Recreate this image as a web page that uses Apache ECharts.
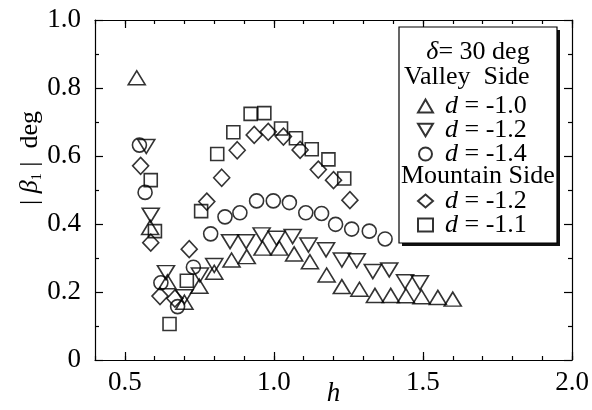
<!DOCTYPE html>
<html>
<head>
<meta charset="utf-8">
<script src="https://cdn.jsdelivr.net/npm/echarts@6/dist/echarts.min.js"></script>
<style>
  html, body { margin: 0; padding: 0; background: #fff; }
  #chart { width: 592px; height: 410px; }
</style>
</head>
<body>
<div id="chart"></div>
<script>
// Flow-angle amplitude |beta_1| against non-dimensional height h, delta = 30 deg.
const SERIF = '"Liberation Serif", "DejaVu Serif", serif';

const xMajorTicks = [0.5, 1.0, 1.5, 2.0];

// Valley side, d = -1.0  [h, |beta1|]
const valleyD10 = [
  [0.54, 0.83], [0.585, 0.39], [0.643, 0.23], [0.70, 0.17], [0.75, 0.217],
  [0.80, 0.258], [0.858, 0.294], [0.909, 0.304], [0.962, 0.329], [1.018, 0.329],
  [1.068, 0.312], [1.121, 0.289], [1.177, 0.25], [1.228, 0.216], [1.287, 0.208],
  [1.339, 0.19], [1.392, 0.19], [1.443, 0.189], [1.495, 0.186], [1.55, 0.184],
  [1.60, 0.179]
];
// Valley side, d = -1.2
const valleyD12 = [
  [0.572, 0.628], [0.587, 0.426], [0.638, 0.257], [0.70, 0.186], [0.752, 0.25],
  [0.80, 0.278], [0.853, 0.348], [0.907, 0.348], [0.959, 0.368], [1.009, 0.358],
  [1.063, 0.363], [1.116, 0.338], [1.175, 0.324], [1.228, 0.294], [1.278, 0.292],
  [1.332, 0.26], [1.387, 0.265], [1.44, 0.23], [1.49, 0.227]
];
// Valley side, d = -1.4
const valleyD14 = [
  [0.549, 0.632], [0.568, 0.493], [0.621, 0.227], [0.677, 0.157], [0.73, 0.273],
  [0.788, 0.371], [0.836, 0.421], [0.886, 0.433], [0.942, 0.468], [0.998, 0.468],
  [1.052, 0.463], [1.107, 0.433], [1.16, 0.431], [1.207, 0.399], [1.261, 0.385],
  [1.32, 0.379], [1.373, 0.356]
];
// Mountain side, d = -1.2
const mountainD12 = [
  [0.553, 0.571], [0.587, 0.345], [0.618, 0.188], [0.668, 0.181], [0.716, 0.326],
  [0.775, 0.466], [0.825, 0.536], [0.877, 0.617], [0.934, 0.662], [0.981, 0.671],
  [1.032, 0.657], [1.088, 0.618], [1.149, 0.56], [1.2, 0.529], [1.255, 0.47]
];
// Mountain side, d = -1.1
const mountainD11 = [
  [0.587, 0.529], [0.601, 0.379], [0.65, 0.106], [0.708, 0.233], [0.756, 0.438],
  [0.81, 0.606], [0.864, 0.67], [0.922, 0.724], [0.968, 0.726], [1.024, 0.681],
  [1.074, 0.652], [1.127, 0.62], [1.183, 0.59], [1.236, 0.534]
];

const legendText = {
  v10: '-1.0', v12: '-1.2', v14: '-1.4', m12: '-1.2', m11: '-1.1'
};

const markStyle = { color: 'rgba(255,255,255,0)', borderColor: '#000', borderWidth: 1.6 };
const axisLineStyle = { color: '#000', width: 1.2 };

function scatter(name, data, symbol, size, rotate) {
  return {
    name, type: 'scatter', data, symbol, symbolSize: size, symbolRotate: rotate || 0,
    xAxisIndex: 0, yAxisIndex: 0, itemStyle: markStyle, emphasis: { disabled: true }
  };
}

const legendBase = {
  orient: 'vertical', itemWidth: 15, itemHeight: 13, itemGap: -2, padding: 0,
  selectedMode: false,
  itemStyle: { borderWidth: 2 },
  formatter: n => '{i|d} = ' + legendText[n],
  textStyle: {
    fontFamily: SERIF, fontSize: 26, color: '#000', padding: [0, 0, 0, 7],
    rich: { i: { fontFamily: SERIF, fontSize: 26, fontStyle: 'italic', color: '#000' } }
  }
};

const chart = echarts.init(document.getElementById('chart'), null, { renderer: 'canvas' });
chart.setOption({
  animation: false,
  backgroundColor: '#fff',
  grid: { left: 95, top: 20, right: 20, bottom: 50, outerBoundsMode: 'none', containLabel: false },
  xAxis: [
    {
      type: 'value', min: 0.4, max: 2.0, interval: 0.1, position: 'bottom',
      axisLine: { lineStyle: axisLineStyle },
      axisTick: { inside: true, length: 4, lineStyle: axisLineStyle },
      axisLabel: {
        color: '#000', fontFamily: SERIF, fontSize: 27, margin: 9,
        formatter: v => {
          const r = Math.round(v * 10);
          return r % 5 === 0 && r >= 5 ? (r / 10).toFixed(1) : '';
        }
      },
      splitLine: { show: false },
      name: 'h', nameLocation: 'middle', nameGap: 20, nameMoveOverlap: false,
      nameTextStyle: { fontFamily: SERIF, fontSize: 27, fontStyle: 'italic', color: '#000' }
    },
    {
      type: 'value', min: 0.4, max: 2.0, interval: 0.1, position: 'bottom',
      axisLine: { show: false },
      axisTick: { inside: true, length: 8, customValues: xMajorTicks, lineStyle: axisLineStyle },
      axisLabel: { show: false }, splitLine: { show: false }
    },
    {
      type: 'value', min: 0.4, max: 2.0, interval: 0.1, position: 'top',
      axisLine: { lineStyle: axisLineStyle },
      axisTick: { inside: true, length: 4, lineStyle: axisLineStyle },
      axisLabel: { show: false }, splitLine: { show: false }
    },
    {
      type: 'value', min: 0.4, max: 2.0, interval: 0.1, position: 'top',
      axisLine: { show: false },
      axisTick: { inside: true, length: 8, customValues: xMajorTicks, lineStyle: axisLineStyle },
      axisLabel: { show: false }, splitLine: { show: false }
    }
  ],
  yAxis: [
    {
      type: 'value', min: 0, max: 1.0, interval: 0.2, position: 'left',
      axisLine: { show: true, lineStyle: axisLineStyle },
      axisTick: { show: true, inside: true, length: 8, lineStyle: axisLineStyle },
      minorTick: { show: true, splitNumber: 2, length: 4, lineStyle: axisLineStyle },
      axisLabel: {
        color: '#000', fontFamily: SERIF, fontSize: 27, margin: 14,
        formatter: v => (v === 0 ? '0' : v.toFixed(1))
      },
      splitLine: { show: false }
    },
    {
      type: 'value', min: 0, max: 1.0, interval: 0.2, position: 'right',
      axisLine: { show: true, lineStyle: axisLineStyle },
      axisTick: { show: true, inside: true, length: 8, lineStyle: axisLineStyle },
      minorTick: { show: true, splitNumber: 2, length: 4, lineStyle: axisLineStyle },
      axisLabel: { show: false }, splitLine: { show: false }
    }
  ],
  legend: [
    Object.assign({}, legendBase, {
      data: [
        { name: 'v10' },
        { name: 'v12', icon: 'path://M0,0 L20,0 L10,17 Z' },
        { name: 'v14' }
      ],
      left: 417, top: 93
    }),
    Object.assign({}, legendBase, { data: ['m12', 'm11'], left: 417, top: 188 })
  ],
  graphic: [
    {
      // legend frame: offset dark rectangle underneath gives the drop shadow
      type: 'rect', z: 3, shape: { x: 402, y: 30, width: 158, height: 216 },
      style: { fill: '#111', stroke: null }
    },
    {
      type: 'rect', z: 3, shape: { x: 399, y: 27, width: 158, height: 216 },
      style: { fill: '#fff', stroke: '#000', lineWidth: 1.2 }
    },
    {
      type: 'text', z: 5, x: 478, y: 52,
      style: {
        text: '{i|δ}= 30 deg', fill: '#000', font: '26px ' + SERIF,
        align: 'center', verticalAlign: 'middle',
        rich: { i: { fontStyle: 'italic', fontFamily: SERIF, fontSize: 26 } }
      }
    },
    { type: 'text', z: 5, x: 404, y: 77,
      style: { text: 'Valley  Side', fill: '#000', font: '26px ' + SERIF, verticalAlign: 'middle' } },
    { type: 'text', z: 5, x: 401, y: 176,
      style: { text: 'Mountain Side', fill: '#000', font: '26px ' + SERIF, verticalAlign: 'middle' } },
    {
      // y-axis title
      type: 'text', z: 5, x: 30, y: 158, rotation: Math.PI / 2,
      style: {
        text: '| {b|β}{s|1} |  deg', fill: '#000', font: '26px ' + SERIF,
        align: 'center', verticalAlign: 'middle',
        rich: {
          b: { fontFamily: SERIF, fontSize: 26, fontStyle: 'italic' },
          s: { fontFamily: SERIF, fontSize: 14, padding: [14, 0, 0, 0] }
        }
      }
    }
  ],
  series: [
    scatter('v10', valleyD10, 'triangle', [17, 14]),
    scatter('v12', valleyD12, 'triangle', [17, 14], 180),
    scatter('v14', valleyD14, 'circle', 14),
    scatter('m12', mountainD12, 'diamond', [16, 17]),
    scatter('m11', mountainD11, 'rect', 13)
  ]
});
</script>
</body>
</html>
